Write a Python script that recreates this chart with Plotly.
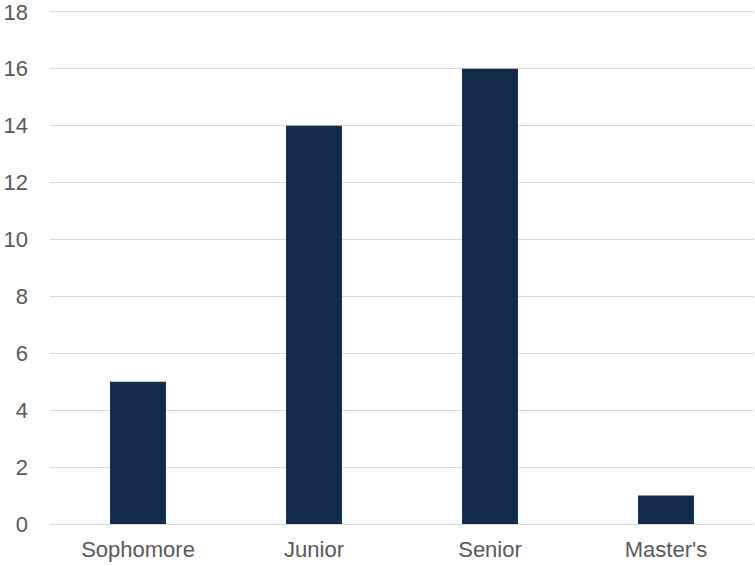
import plotly.graph_objects as go

categories = ["Sophomore", "Junior", "Senior", "Master's"]
values = [5, 14, 16, 1]
y_ticks = list(range(0, 19, 2))

fig = go.Figure(go.Bar(x=categories, y=values, marker_color="#142B4B", marker_line_width=0))
fig.update_layout(
    width=755, height=566,
    margin=dict(l=50, r=1, t=9, b=42, autoexpand=False),
    plot_bgcolor="white", paper_bgcolor="white",
    bargap=0.682, showlegend=False,
    font=dict(family="Liberation Sans, Arial, sans-serif", size=22, color="#595959"),
)
fig.update_yaxes(range=[0, 18.1], tickvals=y_ticks, gridcolor="#D9D9D9", gridwidth=1,
                 zeroline=False, showline=False, ticks="", ticklabelstandoff=21,
                 automargin=False, ticklabeloverflow="allow")
fig.update_xaxes(showline=True, linecolor="#D9D9D9", linewidth=1, ticks="", ticklabelstandoff=6,
                 automargin=False, ticklabeloverflow="allow")
fig.write_html("out.html", config={"displayModeBar": False},
               post_script="document.body.style.margin='0';")
